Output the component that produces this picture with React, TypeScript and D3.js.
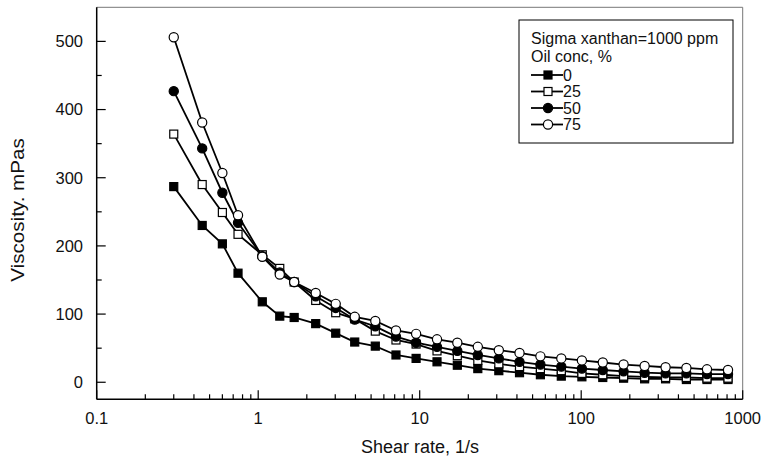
import React from "react";
import * as d3 from "d3";

const shearRate = [0.3, 0.45, 0.6, 0.75, 1.06, 1.36, 1.67, 2.27, 3.02, 3.96, 5.31, 7.13, 9.5, 12.8, 17.1, 22.9, 30.9, 41.5, 55.9, 75.3, 101, 136, 183, 247, 333, 448, 601, 811];
const oil0 = [287, 230, 203, 160, 118, 97, 95, 86, 72, 59, 53, 40, 35, 30, 25, 20, 17, 14, 11, 9, 8, 7, 6, 5, 5, 4, 4, 4];
const oil25 = [364, 290, 249, 217, 187, 167, 147, 120, 102, 93, 75, 62, 56, 46, 39, 32, 27, 23, 20, 17, 13, 11, 9, 8, 7, 7, 6, 6];
const oil50 = [427, 343, 278, 234, 185, 161, 147, 126, 109, 92, 82, 67, 58, 52, 46, 40, 35, 30, 26, 23, 20, 18, 16, 14, 13, 13, 12, 12];
const oil75 = [506, 381, 307, 245, 184, 158, 147, 131, 115, 96, 90, 76, 71, 63, 58, 52, 47, 43, 38, 35, 32, 29, 26, 24, 22, 21, 19, 18];

const seriesNames = ["0", "25", "50", "75"];
const seriesValues = [oil0, oil25, oil50, oil75];
const seriesShape = ["square", "square", "circle", "circle"];
const seriesFill = ["#000", "#fff", "#000", "#fff"];

const xTickLabels = ["0.1", "1", "10", "100", "1000"];
const yTicks = [0, 100, 200, 300, 400, 500];
const legendTitle = ["Sigma xanthan=1000 ppm", "Oil conc, %"];

const W = 763, H = 461;
const L = 96.7, R = 742.7, T = 7.3, B = 399.3;
const FONT = "'Liberation Sans', Arial, sans-serif";
const INK = "#111";

function Marker({ shape, fill, x, y }: { shape: string; fill: string; x: number; y: number }) {
  if (shape === "square") {
    return <rect x={x - 4} y={y - 4} width={8} height={8} fill={fill} stroke="#000" strokeWidth={1.2} />;
  }
  return <circle cx={x} cy={y} r={4.6} fill={fill} stroke="#000" strokeWidth={1.2} />;
}

export default function App() {
  const x = d3.scaleLog().domain([0.1, 1000]).range([L, R]);
  const y = d3.scaleLinear().domain([-25, 550]).range([B, T]);
  const line = d3.line<[number, number]>().x((d) => x(d[0])).y((d) => y(d[1]));

  const xMajor = [0.1, 1, 10, 100, 1000];
  const xMinor: number[] = [];
  [0.1, 1, 10, 100].forEach((d) => {
    for (let k = 2; k <= 9; k++) xMinor.push(d * k);
  });
  const yMinor = d3.range(0, 550, 50).filter((v) => v % 100 !== 0);

  return (
    <svg width={W} height={H} style={{ position: "absolute", left: 0, top: 0, background: "#fff" }} fontFamily={FONT}>
      <rect x={0} y={0} width={W} height={H} fill="#fff" />
      {/* frame */}
      <line x1={L} y1={T} x2={R} y2={T} stroke="#777" strokeWidth={1} />
      <line x1={R} y1={T} x2={R} y2={B} stroke="#777" strokeWidth={1} />
      <line x1={L} y1={T} x2={L} y2={B} stroke="#000" strokeWidth={1.5} />
      <line x1={L} y1={B} x2={R} y2={B} stroke="#000" strokeWidth={1.5} />
      {/* y ticks */}
      {yTicks.map((v) => (
        <g key={"yt" + v}>
          <line x1={L} x2={L + 9} y1={y(v)} y2={y(v)} stroke="#000" strokeWidth={1.2} />
          <text x={83} y={y(v)} dy="0.35em" textAnchor="end" fontSize={16.5} fill={INK}>{v}</text>
        </g>
      ))}
      {yMinor.map((v) => (
        <line key={"ym" + v} x1={L} x2={L + 5} y1={y(v)} y2={y(v)} stroke="#000" strokeWidth={1.2} />
      ))}
      {/* x ticks */}
      {xMajor.map((v, i) => (
        <g key={"xt" + v}>
          <line x1={x(v)} x2={x(v)} y1={B} y2={B - 9} stroke="#000" strokeWidth={1.2} />
          <text x={x(v)} y={424} textAnchor="middle" fontSize={16.5} fill={INK}>{xTickLabels[i]}</text>
        </g>
      ))}
      {xMinor.map((v) => (
        <line key={"xm" + v} x1={x(v)} x2={x(v)} y1={B} y2={B - 5} stroke="#000" strokeWidth={1.2} />
      ))}
      {/* axis titles */}
      <text x={420} y={453} textAnchor="middle" fontSize={18} fill={INK}>Shear rate, 1/s</text>
      <text transform={`translate(24, 210) rotate(-90) scale(1.18, 1)`} textAnchor="middle" fontSize={17.5} fill={INK}>Viscosity. mPas</text>
      {/* series */}
      {seriesValues.map((vals, si) => {
        const pts = shearRate.map((s, i) => [s, vals[i]] as [number, number]);
        return (
          <g key={"s" + si}>
            <path d={line(pts) || ""} fill="none" stroke="#000" strokeWidth={1.8} />
            {pts.map((p, i) => (
              <Marker key={i} shape={seriesShape[si]} fill={seriesFill[si]} x={x(p[0])} y={y(p[1])} />
            ))}
          </g>
        );
      })}
      {/* legend */}
      <rect x={519} y={20} width={214} height={123} fill="#fff" stroke="#000" strokeWidth={1} />
      <text x={531} y={44} fontSize={16} fill={INK}>{legendTitle[0]}</text>
      <text x={531} y={62} fontSize={16} fill={INK}>{legendTitle[1]}</text>
      {seriesNames.map((n, i) => {
        const cy = 75 + i * 16.5;
        return (
          <g key={"lg" + n}>
            <line x1={531} x2={563} y1={cy} y2={cy} stroke="#000" strokeWidth={1.8} />
            <Marker shape={seriesShape[i]} fill={seriesFill[i]} x={548} y={cy} />
            <text x={563} y={cy} dy="0.35em" fontSize={16} fill={INK}>{n}</text>
          </g>
        );
      })}
    </svg>
  );
}
